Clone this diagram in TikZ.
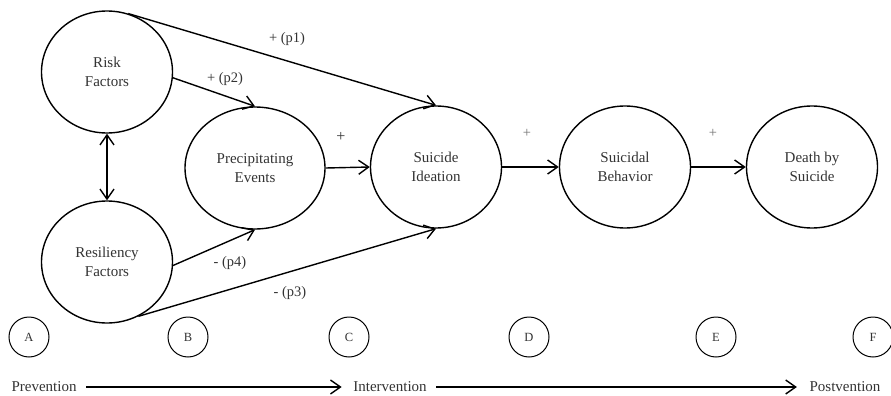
\documentclass[tikz,border=0pt]{standalone}
\usepackage{fontspec}
\setmainfont{Liberation Serif}
\usetikzlibrary{positioning, shapes.geometric, arrows.meta}

\begin{document}
\begin{tikzpicture}[x=1pt, y=-1pt, line width=1.4pt, >={Straight Barb[length=10pt,width=14pt]},
  main/.style = {draw, ellipse, minimum width=131pt, minimum height=122pt, inner sep=0pt, align=center, text=black!80, font=\fontsize{15}{19}\selectfont},
  stage/.style = {draw, circle, minimum size=40pt, inner sep=0pt, line width=1pt, text=black!80, font=\fontsize{12.5}{14}\selectfont},
  lbl/.style = {text=black!80, font=\fontsize{14.5}{16}\selectfont},
  phase/.style = {text=black!80, inner sep=2pt, font=\fontsize{15}{17}\selectfont}]
\useasboundingbox (0,0) rectangle (891,396);

% big ellipses
\node[main] (risk) at (107,72) {Risk\\Factors};
\node[main] (resil) at (107,262) {Resiliency\\Factors};
\node[main, minimum width=140pt] (precip) at (255,168) {Precipitating\\Events};
\node[main] (ideation) at (436,167) {Suicide\\Ideation};
\node[main] (behavior) at (625,167) {Suicidal\\Behavior};
\node[main] (death) at (812,167) {Death by\\Suicide};

% stage markers
\node[stage] (a) at (29,337) {A};
\node[stage] (b) at (188,337) {B};
\node[stage] (c) at (349,337) {C};
\node[stage] (d) at (529,337) {D};
\node[stage] (e) at (716,337) {E};
\node[stage] (f) at (873,337) {F};

% phases
\node[phase] (prev) at (44,387) {Prevention};
\node[phase] (inter) at (390,387) {Intervention};
\node[phase] (post) at (845,387) {Postvention};

\draw[->] (risk.70) -- (ideation.north);
\draw[->] (risk.-5) -- (precip.north);
\draw[<->] (risk.south) -- (resil.north);
\draw[->] (resil.-3) -- (precip.south);
\draw[->] (resil.-60) -- (ideation.south);
\draw[->] (precip.east) -- (ideation.west);
\draw[->] (ideation.east) -- (behavior.west);
\draw[->] (behavior.east) -- (death.west);
\draw[->] ([xshift=7pt]prev.east) -- ([xshift=-9pt]inter.west);
\draw[->] ([xshift=7pt]inter.east) -- ([xshift=-10pt]post.west);

% labels
\node[lbl] (p1) at (287,39) {+ (p1)};
\node[lbl] (p2) at (225,79) {+ (p2)};
\node[lbl] (p4) at (230,263) {- (p4)};
\node[lbl] (p3) at (290,293) {- (p3)};
\node[lbl, font=\fontsize{16}{18}\selectfont] (s1) at (341,137) {+};
\node[lbl, text=black!55] (s2) at (527,133) {+};
\node[lbl, text=black!55] (s3) at (713,133) {+};
\end{tikzpicture}
\end{document}
